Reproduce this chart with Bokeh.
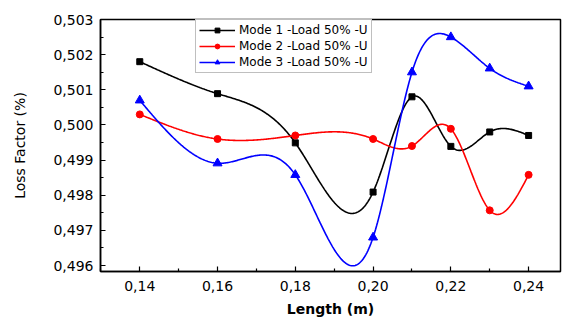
import numpy as np
from bokeh.plotting import figure
from bokeh.models import FixedTicker, Legend, LegendItem, Range1d
from bokeh.embed import file_html
from bokeh.resources import INLINE

# ---- data ----
length = [0.14, 0.16, 0.18, 0.20, 0.21, 0.22, 0.23, 0.24]
mode1 = [0.50180, 0.50089, 0.49949, 0.49809, 0.50080, 0.49939, 0.49980, 0.49970]
mode2 = [0.50030, 0.49960, 0.49970, 0.49960, 0.49940, 0.49989, 0.49757, 0.49858]
mode3 = [0.50070, 0.49891, 0.49858, 0.49680, 0.50150, 0.50250, 0.50161, 0.50110]
series_names = ["Mode 1 -Load 50% -U", "Mode 2 -Load 50% -U", "Mode 3 -Load 50% -U"]

x_major = [0.14, 0.16, 0.18, 0.20, 0.22, 0.24]
x_minor = [0.13, 0.15, 0.17, 0.19, 0.21, 0.23]
x_labels = ["0,14", "0,16", "0,18", "0,20", "0,22", "0,24"]
y_major = [0.496, 0.497, 0.498, 0.499, 0.500, 0.501, 0.502, 0.503]
y_minor = [0.4965, 0.4975, 0.4985, 0.4995, 0.5005, 0.5015, 0.5025]
y_labels = ["0,496", "0,497", "0,498", "0,499", "0,500", "0,501", "0,502", "0,503"]


def natural_spline(x, y, n=400):
    x = np.asarray(x, float)
    y = np.asarray(y, float)
    m = len(x)
    h = np.diff(x)
    A = np.zeros((m, m))
    b = np.zeros(m)
    A[0, 0] = 1.0
    A[-1, -1] = 1.0
    for i in range(1, m - 1):
        A[i, i - 1] = h[i - 1]
        A[i, i] = 2 * (h[i - 1] + h[i])
        A[i, i + 1] = h[i]
        b[i] = 6 * ((y[i + 1] - y[i]) / h[i] - (y[i] - y[i - 1]) / h[i - 1])
    M = np.linalg.solve(A, b)
    xs = np.linspace(x[0], x[-1], n)
    idx = np.clip(np.searchsorted(x, xs) - 1, 0, m - 2)
    x0, x1 = x[idx], x[idx + 1]
    hh = x1 - x0
    t0, t1 = x1 - xs, xs - x0
    ys = (M[idx] * t0 ** 3 / (6 * hh) + M[idx + 1] * t1 ** 3 / (6 * hh)
          + (y[idx] / hh - M[idx] * hh / 6) * t0
          + (y[idx + 1] / hh - M[idx + 1] * hh / 6) * t1)
    return xs, ys


p = figure(width=562, height=319, output_backend="svg", toolbar_location=None,
           min_border_left=100, min_border_right=2, min_border_top=19, min_border_bottom=44,
           x_range=Range1d(0.1299, 0.2482), y_range=Range1d(0.49583, 0.50300))
p.xgrid.visible = False
p.ygrid.visible = False
p.outline_line_color = "black"
p.outline_line_width = 1.5

p.xaxis.ticker = FixedTicker(ticks=x_major, minor_ticks=x_minor)
p.yaxis.ticker = FixedTicker(ticks=y_major, minor_ticks=y_minor)
p.xaxis.major_label_overrides = dict(zip(x_major, x_labels))
p.yaxis.major_label_overrides = dict(zip(y_major, y_labels))

for ax in (p.xaxis[0], p.yaxis[0]):
    ax.axis_line_width = 1.5
    ax.major_tick_in = 5
    ax.major_tick_out = 0
    ax.minor_tick_in = 3
    ax.minor_tick_out = 0
    ax.major_tick_line_width = 1.2
    ax.minor_tick_line_width = 1.2
    ax.major_label_text_font = "DejaVu Sans"
    ax.major_label_text_font_size = "14px"
    ax.major_label_text_color = "black"
    ax.axis_label_text_font = "DejaVu Sans"
    ax.axis_label_text_font_style = "normal"
    ax.axis_label_text_color = "black"

p.xaxis.axis_label = "Length (m)"
p.xaxis.axis_label_text_font_style = "bold"
p.xaxis.axis_label_text_font_size = "14px"
p.xaxis.major_label_standoff = 9
p.xaxis.axis_label_standoff = 7
p.yaxis.axis_label = "Loss Factor (%)"
p.yaxis.axis_label_text_font_size = "14px"
p.yaxis.major_label_standoff = 7
p.yaxis.axis_label_standoff = 22

colors = ["black", "#ff0000", "#0000ff"]
markers = ["square", "circle", "triangle"]
sizes = [6, 7, 9]
items = []
for vals, name, c, mk, sz in zip([mode1, mode2, mode3], series_names, colors, markers, sizes):
    xs, ys = natural_spline(length, vals)
    ln = p.line(xs, ys, line_color=c, line_width=1.6)
    sc = p.scatter(length, vals, marker=mk, size=sz, fill_color=c, line_color=c)
    items.append(LegendItem(label=name, renderers=[ln, sc]))

legend = Legend(items=items, location=(95, 198))
legend.label_text_font = "DejaVu Sans"
legend.label_text_font_size = "12px"
legend.label_text_color = "black"
legend.glyph_width = 36
legend.glyph_height = 12
legend.label_height = 12
legend.label_standoff = 4
legend.spacing = 2
legend.padding = 3
legend.margin = 0
legend.border_line_color = "#808080"
legend.border_line_width = 1
legend.background_fill_alpha = 1
p.add_layout(legend, "center")

open("out.html", "w").write(file_html(p, INLINE))
